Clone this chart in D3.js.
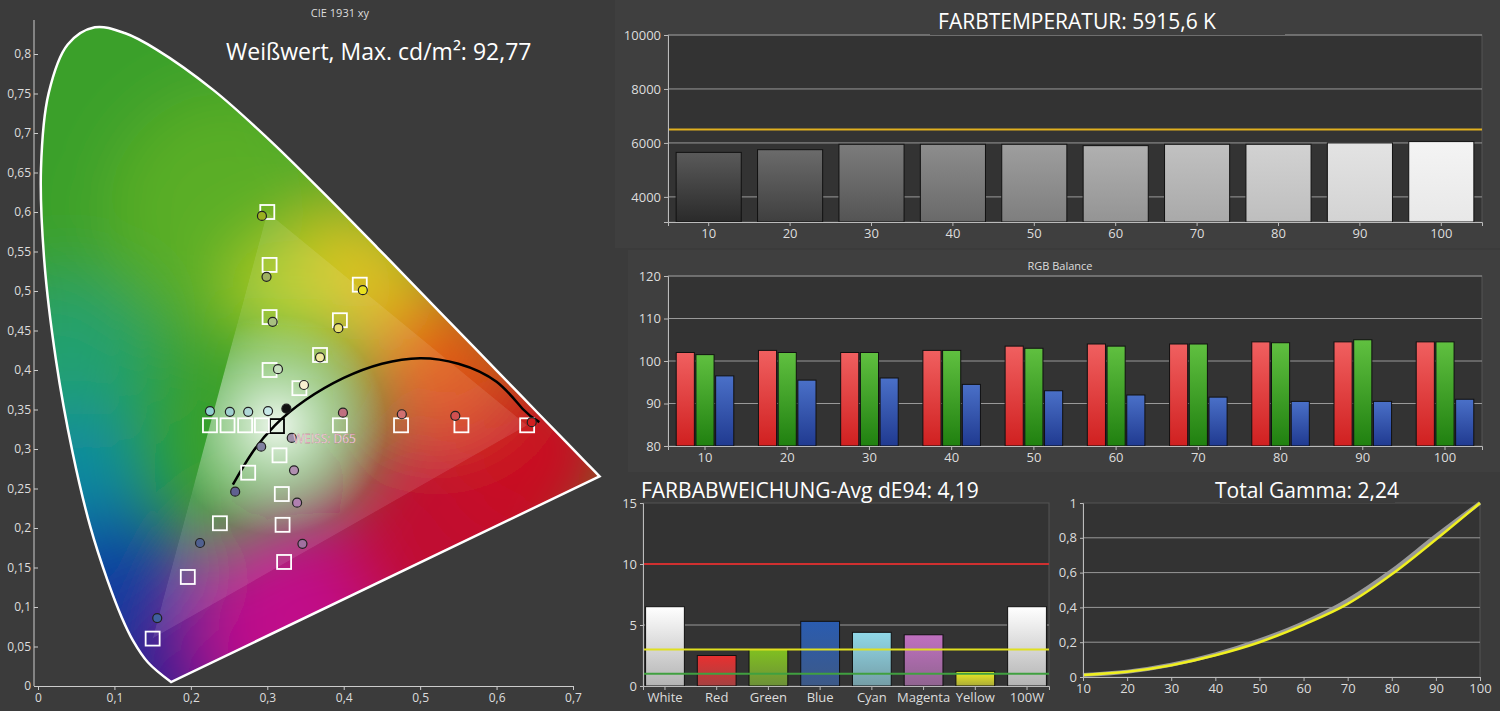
<!DOCTYPE html><html><head><meta charset="utf-8">
<script src="https://cdn.jsdelivr.net/npm/d3@7"></script>
<style>body{margin:0;background:#3b3b3b}svg{display:block}text{font-family:"Open Sans",sans-serif}</style></head><body>
<svg id="c" width="1500" height="711"></svg>
<script>
// ---- data ----
const locus=[[.1741,.005],[.144,.0297],[.1241,.0578],[.1096,.0868],[.0913,.1327],[.0687,.2007],[.0454,.295],[.0235,.4127],[.0082,.5384],[.0039,.6548],[.0139,.7502],[.0389,.812],[.0743,.8338],[.1142,.8262],[.1547,.8059],[.2296,.7543],[.3016,.6923],[.3731,.6245],[.4441,.5547],[.5125,.4866],[.5752,.4242],[.627,.3725],[.6915,.3083],[.719,.2809],[.7347,.2653]];
const gamut=[[.64,.33],[.30,.60],[.15,.06]];
const targets=[[.64,.33],[.30,.60],[.15,.06],[.3127,.329],[.225,.33],[.248,.33],[.271,.33],[.293,.33],[.395,.33],[.475,.33],[.554,.33],[.303,.533],[.303,.467],[.303,.40],[.421,.508],[.395,.463],[.369,.419],[.342,.377],[.196,.138],[.238,.206],[.275,.270],[.316,.292],[.319,.243],[.320,.204],[.322,.157]];
const measured=[[.293,.595,"#9ab020"],[.299,.518,"#9fb060"],[.307,.461,"#a8c080"],[.314,.401,"#c8e0c0"],[.425,.501,"#e8e020"],[.393,.453,"#e8e070"],[.369,.416,"#f0e8a0"],[.348,.381,"#f8f0d0"],[.399,.346,"#c07080"],[.476,.344,"#d07070"],[.546,.342,"#d05050"],[.646,.334,"#d02020"],[.225,.348,"#90d0d0"],[.251,.347,"#a0d0d0"],[.275,.347,"#b0d8d8"],[.301,.348,"#c8e8e8"],[.156,.086,"#4060a0"],[.212,.181,"#506090"],[.258,.246,"#606090"],[.292,.303,"#8080a0"],[.332,.314,"#a090a8"],[.335,.273,"#b090b0"],[.339,.232,"#b080b0"],[.346,.180,"#a070a0"],[.325,.351,"#111"]];
const locusCurve=[[.255,.255],[.28,.295],[.31,.33],[.35,.362],[.40,.39],[.45,.408],[.50,.415],[.55,.408],[.60,.385],[.635,.35],[.656,.334]];
const steps=["10","20","30","40","50","60","70","80","90","100"];
const cct=[5650,5750,5950,5950,5950,5900,5950,5950,6000,6050];
const rVals=[102,102.5,102,102.5,103.5,104,104,104.5,104.5,104.5];
const gVals=[101.5,102,102,102.5,103,103.5,104,104.3,105,104.5];
const bVals=[96.5,95.5,96,94.5,93,92,91.5,90.5,90.5,91];
const deCats=["White","Red","Green","Blue","Cyan","Magenta","Yellow","100W"];
const deVals=[6.5,2.5,3.0,5.3,4.4,4.2,1.2,6.5];
const deColors=["#ffffff","#e83030","#80c020","#2a5cb0","#90d8e8","#c070c0","#f0f020","#ffffff"];
const gammaX=[10,20,30,40,50,60,70,80,90,100];
const gammaRef=[0.012,0.03,0.07,0.13,0.21,0.31,0.44,0.61,0.81,1.0];
const gammaMeas=[0.012,0.03,0.068,0.125,0.2,0.3,0.42,0.59,0.79,1.0];

const svg=d3.select("#c"),defs=svg.append("defs");
svg.append("rect").attr("width",1500).attr("height",711).attr("fill","#3b3b3b");

// ---- CIE ----
const x=d3.scaleLinear([0,0.7],[38,573]),y=d3.scaleLinear([0,0.8],[686,54]);
const line=d3.line(d=>x(d[0]),d=>y(d[1]));
const smooth=d3.line(d=>x(d[0]),d=>y(d[1])).curve(d3.curveCatmullRom);
const hsPath=smooth(locus)+"Z";
defs.append("clipPath").attr("id","hs").append("path").attr("d",hsPath);
defs.append("clipPath").attr("id","tri").append("path").attr("d",line(gamut)+"Z");
defs.append("filter").attr("id","bl").attr("x","-50%").attr("y","-50%").attr("width","200%").attr("height","200%").append("feGaussianBlur").attr("stdDeviation",35);
const blobs=[[.1,.7,200,"#3aa02a"],[.25,.6,120,"#5aae28"],[.04,.4,90,"#20a070"],[.05,.25,80,"#0a8aa0"],[.1,.08,110,"#0a40a0"],[.2,.0,90,"#301a90"],[.35,.08,110,"#c0108a"],[.55,.2,120,"#c01030"],[.65,.3,90,"#c81020"],[.52,.42,80,"#e05515"],[.42,.52,70,"#e0c020"],[.32,.5,50,"#b8d020"]];
const cg=svg.append("g").attr("clip-path","url(#hs)");
cg.append("rect").attr("x",30).attr("y",20).attr("width",600).attr("height",680).attr("fill","#3aa02a");
cg.append("g").attr("filter","url(#bl)").selectAll("circle").data(blobs).join("circle").attr("cx",d=>x(d[0])).attr("cy",d=>y(d[1])).attr("r",d=>d[2]).attr("fill",d=>d[3]);
const rg=defs.append("radialGradient").attr("id","wr").attr("gradientUnits","userSpaceOnUse").attr("cx",x(.3127)).attr("cy",y(.33)).attr("r",110);
rg.append("stop").attr("offset",0).attr("stop-color","#fff").attr("stop-opacity",0.9);
rg.append("stop").attr("offset",1).attr("stop-color","#fff").attr("stop-opacity",0);
const tg=svg.append("g").attr("clip-path","url(#tri)");
tg.append("path").attr("d",line(gamut)+"Z").attr("fill","#fff").attr("opacity",0.1);
tg.append("rect").attr("x",0).attr("y",0).attr("width",620).attr("height",711).attr("fill","url(#wr)");
svg.append("path").attr("d",hsPath).attr("fill","none").attr("stroke","#fff").attr("stroke-width",2.5);
svg.append("path").attr("d",d3.line(d=>x(d[0]),d=>y(d[1])).curve(d3.curveNatural)(locusCurve)).attr("fill","none").attr("stroke","#000").attr("stroke-width",2.5);
svg.append("g").selectAll("rect").data(targets).join("rect").attr("x",d=>x(d[0])-7).attr("y",d=>y(d[1])-7).attr("width",14).attr("height",14).attr("fill","none").attr("stroke",(d,i)=>i==3?"#000":"#fff").attr("stroke-width",1.8);
svg.append("g").selectAll("circle").data(measured).join("circle").attr("cx",d=>x(d[0])).attr("cy",d=>y(d[1])).attr("r",4.5).attr("fill",d=>d[2]).attr("stroke","#222").attr("stroke-width",1.2);
svg.append("text").attr("x",x(.3127)+16).attr("y",y(.329)+17).attr("fill","#fff").attr("font-size",12).attr("stroke","#c06080").attr("stroke-width",0.3).text("WEISS: D65");
const xa=svg.append("g").attr("transform","translate(0,686)").call(d3.axisBottom(x).tickValues(d3.range(0,0.71,0.1)).tickFormat(d=>d3.format(".1~f")(d).replace(".",",")).tickSize(4));
const ya=svg.append("g").attr("transform","translate(38,0)").call(d3.axisLeft(y).tickValues(d3.range(0,0.81,0.05)).tickFormat(d=>d3.format(".2~f")(d).replace(".",",")).tickSize(4));
ya.select(".domain").attr("d","M-4,686V20");
[xa,ya].forEach(a=>{a.selectAll("text").attr("fill","#ddd").attr("font-size",12);a.selectAll("line,path").attr("stroke","#ccc");});
svg.append("text").attr("x",340).attr("y",17).attr("text-anchor","middle").attr("fill","#ddd").attr("font-size",11).text("CIE 1931 xy");
svg.append("rect").attr("x",222).attr("y",33).attr("width",390).attr("height",36).attr("fill","#3b3b3b");
svg.append("text").attr("x",226).attr("y",60).attr("fill","#fff").attr("font-size",23).text("Weißwert, Max. cd/m²: 92,77");

function vgrad(id,top,bot){const g=defs.append("linearGradient").attr("id",id).attr("x1",0).attr("x2",0).attr("y1",0).attr("y2",1);g.append("stop").attr("offset",0).attr("stop-color",top);g.append("stop").attr("offset",1).attr("stop-color",bot);return `url(#${id})`;}
function style(a){a.selectAll("text").attr("fill","#ddd").attr("font-size",13);a.selectAll("line,path").attr("stroke","#bbb");}
function plotBg(x0,y0,w,h){svg.append("rect").attr("x",x0).attr("y",y0).attr("width",w).attr("height",h).attr("fill","#333").attr("stroke","#555");}

// ---- CCT ----
svg.append("rect").attr("x",615).attr("y",0).attr("width",885).attr("height",248).attr("fill","#3f3f3f");
plotBg(668,35,814,187);
const cx=d3.scaleBand(steps,[668,1482]).paddingInner(0.2).paddingOuter(0.1);
const cy=d3.scaleLinear([3070,10000],[222,35]);
svg.append("g").selectAll("line").data([4000,6000,8000,10000]).join("line").attr("x1",668).attr("x2",1482).attr("y1",d=>cy(d)).attr("y2",d=>cy(d)).attr("stroke","#999");
svg.append("g").selectAll("rect").data(cct).join("rect").attr("x",(d,i)=>cx(steps[i])).attr("width",cx.bandwidth()).attr("y",d=>cy(d)).attr("height",d=>222-cy(d)).attr("stroke","#111")
 .attr("fill",(d,i)=>{const t=i/9;const c1=d3.interpolateRgb("#5a5a5a","#f4f4f4")(t),c2=d3.interpolateRgb("#2a2a2a","#e8e8e8")(t);return vgrad("cg"+i,c1,c2);});
svg.append("line").attr("x1",668).attr("x2",1482).attr("y1",cy(6500)).attr("y2",cy(6500)).attr("stroke","#e0b020").attr("stroke-width",2);
style(svg.append("g").attr("transform","translate(668,0)").call(d3.axisLeft(cy).tickValues([4000,6000,8000,10000]).tickFormat(d=>d).tickSize(4)));
style(svg.append("g").attr("transform","translate(0,222)").call(d3.axisBottom(cx).tickSize(4)));
svg.append("rect").attr("x",930).attr("y",5).attr("width",355).attr("height",30).attr("fill","#3f3f3f");
svg.append("text").attr("x",1077).attr("y",29).attr("text-anchor","middle").attr("fill","#fff").attr("font-size",21).text("FARBTEMPERATUR: 5915,6 K");

// ---- RGB ----
svg.append("rect").attr("x",628).attr("y",250).attr("width",872).attr("height",222).attr("fill","#3f3f3f");
plotBg(668,276,814,170);
const rx=d3.scaleBand(steps,[668,1482]).paddingInner(0.3).paddingOuter(0.1);
const sub=d3.scaleBand(["r","g","b"],[0,rx.bandwidth()]).paddingInner(0.08);
const ry=d3.scaleLinear([80,120],[446,276]);
svg.append("g").selectAll("line").data([90,100,110,120]).join("line").attr("x1",668).attr("x2",1482).attr("y1",d=>ry(d)).attr("y2",d=>ry(d)).attr("stroke","#999");
const ser=[["r",rVals,vgrad("gr","#f06060","#d02020")],["g",gVals,vgrad("gg","#60c040","#208010")],["b",bVals,vgrad("gb","#4a70c8","#203a90")]];
ser.forEach(([k,vals,f])=>svg.append("g").selectAll("rect").data(vals).join("rect").attr("x",(d,i)=>rx(steps[i])+sub(k)).attr("width",sub.bandwidth()).attr("y",d=>ry(d)).attr("height",d=>446-ry(d)).attr("fill",f).attr("stroke","#111"));
style(svg.append("g").attr("transform","translate(668,0)").call(d3.axisLeft(ry).tickValues([80,90,100,110,120]).tickSize(4)));
style(svg.append("g").attr("transform","translate(0,446)").call(d3.axisBottom(rx).tickSize(4)));
svg.append("text").attr("x",1060).attr("y",270).attr("text-anchor","middle").attr("fill","#ddd").attr("font-size",11).text("RGB Balance");

// ---- dE ----
plotBg(643,503,406,183);
const dx=d3.scaleBand(deCats,[643,1049]).paddingInner(0.25).paddingOuter(0.05);
const dy=d3.scaleLinear([0,15],[686,503]);
svg.append("line").attr("x1",643).attr("x2",1049).attr("y1",dy(5)).attr("y2",dy(5)).attr("stroke","#999");
svg.append("g").selectAll("rect").data(deVals).join("rect").attr("x",(d,i)=>dx(deCats[i])).attr("width",dx.bandwidth()).attr("y",d=>dy(d)).attr("height",d=>686-dy(d)).attr("stroke","#111")
 .attr("fill",(d,i)=>vgrad("dg"+i,deColors[i],d3.interpolateRgb(deColors[i],"#555")(0.45)));
[[10,"#d03030"],[3,"#e0e020"],[1,"#40a040"]].forEach(([v,c])=>svg.append("line").attr("x1",643).attr("x2",1049).attr("y1",dy(v)).attr("y2",dy(v)).attr("stroke",c).attr("stroke-width",2));
style(svg.append("g").attr("transform","translate(643,0)").call(d3.axisLeft(dy).tickValues([0,5,10,15]).tickSize(3)));
style(svg.append("g").attr("transform","translate(0,686)").call(d3.axisBottom(dx).tickSize(4)));
svg.append("text").attr("x",641).attr("y",498).attr("fill","#fff").attr("font-size",21).text("FARBABWEICHUNG-Avg dE94: 4,19");

// ---- Gamma ----
plotBg(1083,503,397,174);
const gx=d3.scaleLinear([10,100],[1083,1480]),gy=d3.scaleLinear([0,1],[677,503]);
svg.append("g").selectAll("line").data([0.2,0.4,0.6,0.8]).join("line").attr("x1",1083).attr("x2",1480).attr("y1",d=>gy(d)).attr("y2",d=>gy(d)).attr("stroke","#999");
const gl=d3.line((d,i)=>gx(gammaX[i]),d=>gy(d)).curve(d3.curveMonotoneX);
svg.append("path").attr("d",gl(gammaRef)).attr("fill","none").attr("stroke","#999").attr("stroke-width",4);
svg.append("path").attr("d",gl(gammaMeas)).attr("fill","none").attr("stroke","#f0f020").attr("stroke-width",2.5);
style(svg.append("g").attr("transform","translate(1083,0)").call(d3.axisLeft(gy).tickValues([0,.2,.4,.6,.8,1]).tickFormat(d=>d3.format(".1~f")(d).replace(".",",")).tickSize(3)));
style(svg.append("g").attr("transform","translate(0,677)").call(d3.axisBottom(gx).tickValues(gammaX).tickSize(4)));
svg.append("rect").attr("x",1220).attr("y",475).attr("width",175).attr("height",28).attr("fill","#3b3b3b");
svg.append("text").attr("x",1307).attr("y",498).attr("text-anchor","middle").attr("fill","#fff").attr("font-size",21).text("Total Gamma: 2,24");
</script></body></html>
